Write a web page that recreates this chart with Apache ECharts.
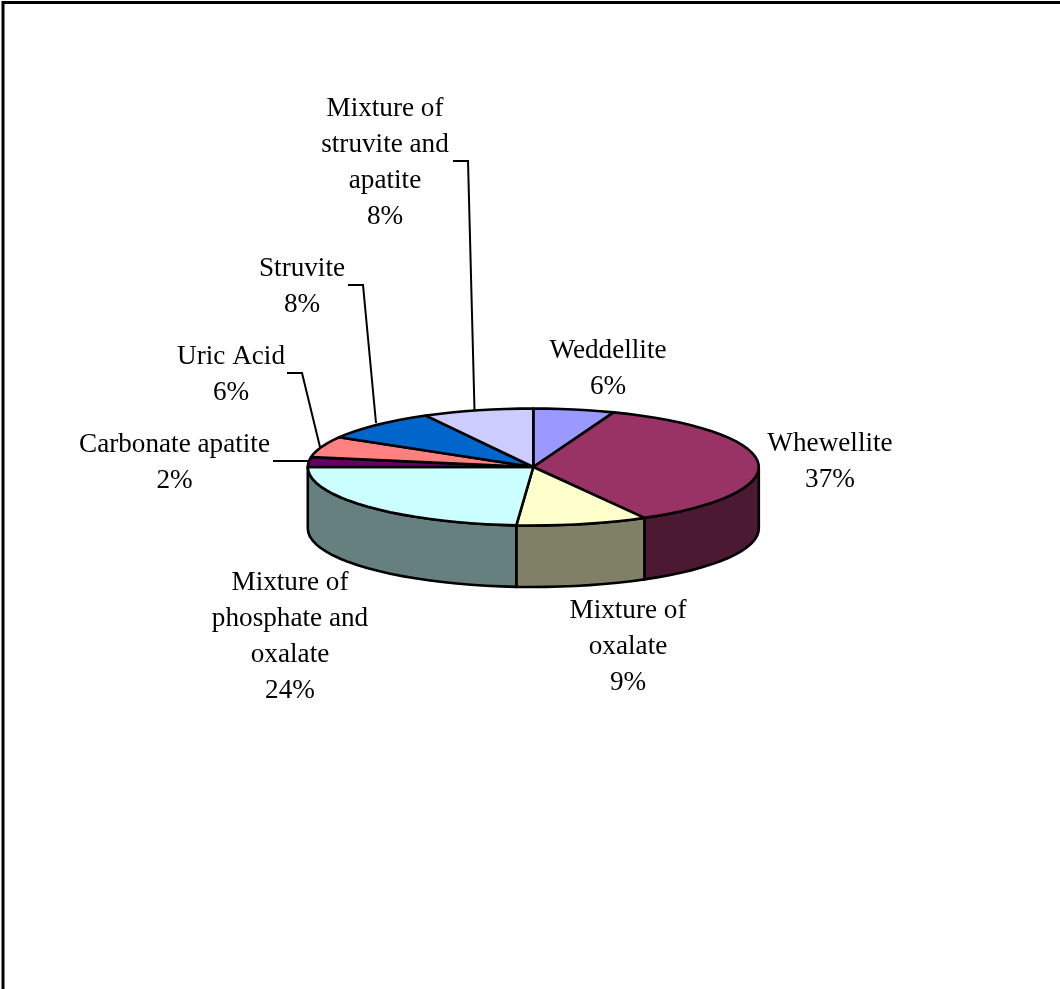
<!DOCTYPE html>
<html>
<head>
<meta charset="utf-8">
<style>html,body{margin:0;padding:0;background:#fff}#chart{width:1060px;height:989px}</style>
<script src="https://cdn.jsdelivr.net/npm/echarts@6/dist/echarts.min.js"></script>
</head>
<body>
<div id="chart"></div>
<script>
// Data, clockwise from 12 o'clock
var categories = ['Weddellite','Whewellite','Mixture of\noxalate','Mixture of\nphosphate and\noxalate','Carbonate apatite','Uric Acid','Struvite','Mixture of\nstruvite and\napatite'];
var percentLabels = [6,37,9,24,2,6,8,8];
var sliceShares = [5.8,36,9.4,23.8,2.7,5.8,8.6,7.9];
var sliceColors = ['#9999FF','#993366','#FFFFCC','#CCFFFF','#660066','#FF8080','#0066CC','#CCCCFF'];
var sideColors = ['#4C4C80','#4C1933','#808066','#668080','#330033','#804040','#003366','#666680'];

// Layout
var pie = {cx:533.3, cy:467, rx:225.5, ry:58.5, depth:61.5};
var labelLayout = [
  {x:608,y:351},{x:830,y:444},{x:628,y:611},{x:290,y:583},
  {x:174.5,y:445},{x:231,y:357},{x:302,y:269},{x:385,y:109}
];
var leaderLines = [
  [[453,161],[468,161],[474.5,410]],
  [[348,285],[363,285],[376,423]],
  [[287,373],[302,373],[320,447]],
  [[273,461],[309,461]]
];
var LINE_H = 36, FONT = '27.2px "Liberation Serif","Times New Roman",serif';

var total = sliceShares.reduce(function(a,b){return a+b;},0);
var starts = [], run = 0;
sliceShares.forEach(function(v){starts.push(run/total*Math.PI*2); run += v;});
function ends(i){return starts[i] + sliceShares[i]/total*Math.PI*2;}
function pt(a,dy){return [pie.cx+pie.rx*Math.sin(a), pie.cy-pie.ry*Math.cos(a)+(dy||0)];}
function arc(a0,a1,dy){
  var n = Math.max(2,Math.ceil((a1-a0)/(Math.PI/45))), out=[];
  for(var k=0;k<=n;k++) out.push(pt(a0+(a1-a0)*k/n,dy));
  return out;
}
var lineStyle = {stroke:'#000',lineWidth:2.6,lineJoin:'round'};

function renderSide(params){
  var i = params.dataIndex;
  var a0 = Math.max(starts[i],Math.PI/2), a1 = Math.min(ends(i),Math.PI*1.5);
  if(a1<=a0) return {type:'group',children:[]};
  var pts = arc(a0,a1,0).concat(arc(a0,a1,pie.depth).reverse());
  return {type:'polygon',shape:{points:pts},style:Object.assign({fill:sideColors[i]},lineStyle)};
}
function renderTop(params){
  var i = params.dataIndex;
  var pts = [[pie.cx,pie.cy]].concat(arc(starts[i],ends(i),0));
  return {type:'polygon',shape:{points:pts},style:Object.assign({fill:sliceColors[i]},lineStyle)};
}

var graphics = [
  {type:'polyline',shape:{points:[[3,1060],[3,2.5],[1060,2.5]]},style:{stroke:'#000',lineWidth:3,fill:null},z:1}
];
leaderLines.forEach(function(p){
  graphics.push({type:'polyline',shape:{points:p},style:{stroke:'#000',lineWidth:2,fill:null},z:1});
});
categories.forEach(function(c,i){
  var lines = c.split('\n').concat([percentLabels[i]+'%']);
  lines.forEach(function(t,j){
    graphics.push({type:'text',x:labelLayout[i].x,y:labelLayout[i].y+j*LINE_H,z:20,
      style:{text:t,font:FONT,fill:'#000',textAlign:'center',textVerticalAlign:'middle'}});
  });
});

var chart = echarts.init(document.getElementById('chart'),null,{renderer:'canvas'});
var seriesData = sliceShares.map(function(v,i){return {name:categories[i],value:v};});
chart.setOption({
  animation:false,
  backgroundColor:'#fff',
  graphic:graphics,
  series:[
    {type:'custom',coordinateSystem:'none',renderItem:renderSide,data:seriesData,z:5,silent:true},
    {type:'custom',coordinateSystem:'none',renderItem:renderTop,data:seriesData,z:6,silent:true}
  ]
});
</script>
</body>
</html>
